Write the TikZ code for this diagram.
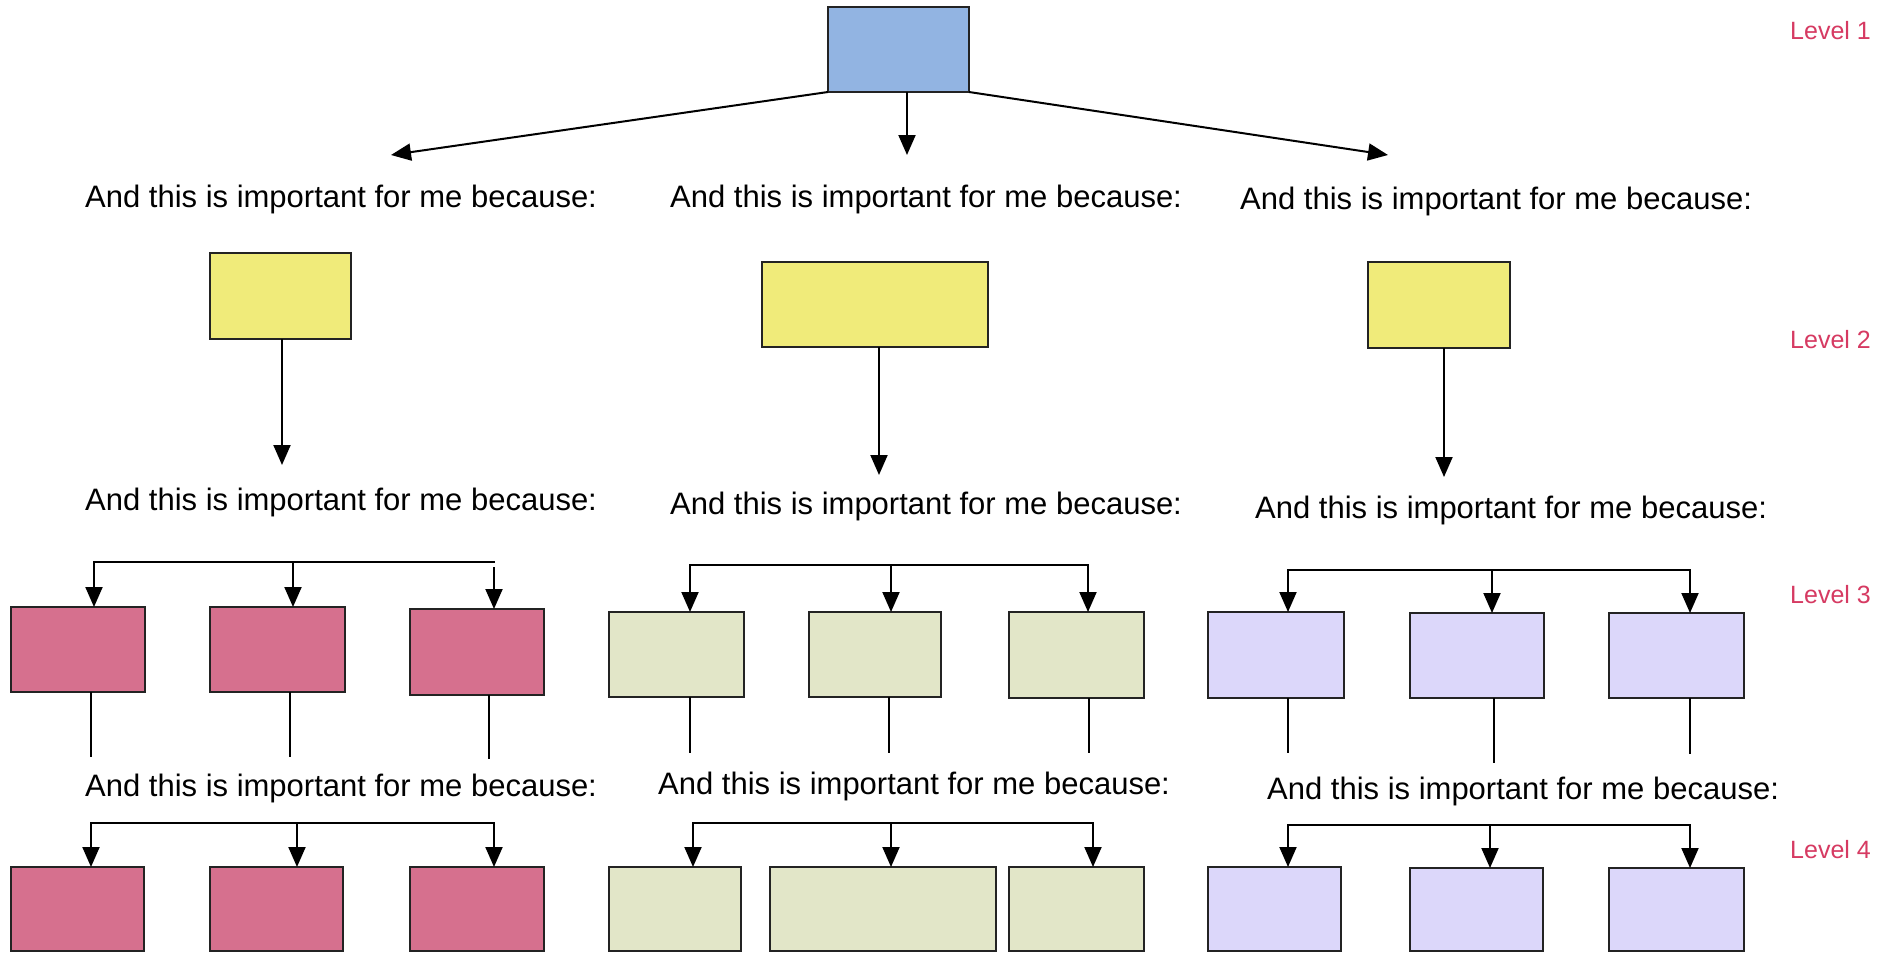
\documentclass[tikz,border=0pt]{standalone}
\usepackage{fontspec}
\setmainfont{Liberation Sans}
\usetikzlibrary{arrows.meta}

\definecolor{bluefill}{RGB}{146,180,226}
\definecolor{yellowfill}{RGB}{240,235,122}
\definecolor{pinkfill}{RGB}{214,112,142}
\definecolor{greenfill}{RGB}{226,230,200}
\definecolor{purplefill}{RGB}{220,215,250}
\definecolor{levelred}{RGB}{214,58,98}
\definecolor{edge}{RGB}{35,35,35}

\newcommand\reasonfont{\fontsize{31}{37}\selectfont}
\newcommand\levelfont{\fontsize{25}{30}\selectfont}
% rectangle node given by its corners: style, name, x1, y1, x2, y2
\newcommand\drawpanel[6]{%
  \node[#1, minimum width={(#5-#3)*1pt}, minimum height={(#6-#4)*1pt}]
    (#2) at ({(#3+#5)/2},{(#4+#6)/2}) {};}

\tikzset{
  panel/.style={rectangle, draw=edge, line width=1.8pt, inner sep=0pt, outer sep=0pt},
  bluebox/.style={panel, fill=bluefill},
  yellowbox/.style={panel, fill=yellowfill},
  pinkbox/.style={panel, fill=pinkfill},
  greenbox/.style={panel, fill=greenfill},
  purplebox/.style={panel, fill=purplefill},
  conn/.style={draw=black, line width=2pt, -{Triangle[length=20pt,width=17pt]}},
  stem/.style={draw=black, line width=1.6pt},
  bar/.style={draw=black, line width=2.4pt, line cap=rect},
  reason/.style={font=\reasonfont, anchor=base west, inner sep=0pt},
  levellab/.style={font=\levelfont, text=levelred, anchor=base west, inner sep=0pt},
}

\begin{document}
\begin{tikzpicture}[x=1pt, y=-1pt]
\fill[white] (0,0) rectangle (1896,953);
\useasboundingbox (0,0) rectangle (1896,953);

% ---------- level labels ----------
\node[levellab] (lv1) at (1790,39) {Level 1};
\node[levellab] (lv2) at (1790,348) {Level 2};
\node[levellab] (lv3) at (1790,603) {Level 3};
\node[levellab] (lv4) at (1790,858) {Level 4};

% ---------- level 1 ----------
\drawpanel{bluebox}{top}{828}{7}{969}{92}
\coordinate (t1) at (391,155);
\coordinate (t2) at (907,155);
\coordinate (t3) at (1388,155);
\draw[conn] (top.south west) -- (t1);
\draw[conn] (t2 |- top.south) -- (t2);
\draw[conn] (top.south east) -- (t3);

\node[reason] (r1a) at (85,207) {And this is important for me because:};
\node[reason] (r1b) at (670,207) {And this is important for me because:};
\node[reason] (r1c) at (1240,209) {And this is important for me because:};

% ---------- level 2 ----------
\drawpanel{yellowbox}{ya}{210}{253}{351}{339}
\drawpanel{yellowbox}{yb}{762}{262}{988}{347}
\drawpanel{yellowbox}{yc}{1368}{262}{1510}{348}
\coordinate (yae) at (282,465);
\coordinate (ybe) at (879,475);
\coordinate (yce) at (1444,477);
\draw[conn] (yae |- ya.south) -- (yae);
\draw[conn] (ybe |- yb.south) -- (ybe);
\draw[conn] (yce |- yc.south) -- (yce);

\node[reason] (r2a) at (85,510) {And this is important for me because:};
\node[reason] (r2b) at (670,514) {And this is important for me because:};
\node[reason] (r2c) at (1255,518) {And this is important for me because:};

% ---------- level 3 ----------
\drawpanel{pinkbox}{p3a}{11}{607}{145}{692}
\drawpanel{pinkbox}{p3b}{210}{607}{345}{692}
\drawpanel{pinkbox}{p3c}{410}{609}{544}{695}
\drawpanel{greenbox}{g3a}{609}{612}{744}{697}
\drawpanel{greenbox}{g3b}{809}{612}{941}{697}
\drawpanel{greenbox}{g3c}{1009}{612}{1144}{698}
\drawpanel{purplebox}{v3a}{1208}{612}{1344}{698}
\drawpanel{purplebox}{v3b}{1410}{613}{1544}{698}
\drawpanel{purplebox}{v3c}{1609}{613}{1744}{698}

% pink bracket
\coordinate (pk3L) at (94,562);
\coordinate (pk3M) at (293,562);
\coordinate (pk3R) at (494,562);
\coordinate (pk3Rs) at (494,567);
\draw[bar] (pk3L) -- (pk3R);
\draw[conn] (pk3L) -- (pk3L |- p3a.north);
\draw[conn] (pk3M) -- (pk3M |- p3b.north);
\draw[conn] (pk3Rs) -- (pk3Rs |- p3c.north);
% green bracket
\coordinate (gr3L) at (690,565);
\coordinate (gr3M) at (891,565);
\coordinate (gr3R) at (1088,565);
\draw[bar] (gr3L) -- (gr3R);
\draw[conn] (gr3L) -- (gr3L |- g3a.north);
\draw[conn] (gr3M) -- (gr3M |- g3b.north);
\draw[conn] (gr3R) -- (gr3R |- g3c.north);
% purple bracket
\coordinate (pu3L) at (1288,570);
\coordinate (pu3M) at (1492,570);
\coordinate (pu3R) at (1690,570);
\draw[bar] (pu3L) -- (pu3R);
\draw[conn] (pu3L) -- (pu3L |- v3a.north);
\draw[conn] (pu3M) -- (pu3M |- v3b.north);
\draw[conn] (pu3R) -- (pu3R |- v3c.north);

% stems below the level 3 boxes
\coordinate (sp1) at (91,757);
\coordinate (sp2) at (290,757);
\coordinate (sp3) at (489,759);
\coordinate (sg1) at (690,753);
\coordinate (sg2) at (889,753);
\coordinate (sg3) at (1089,753);
\coordinate (sv1) at (1288,753);
\coordinate (sv2) at (1494,763);
\coordinate (sv3) at (1690,754);
\draw[stem] (sp1 |- p3a.south) -- (sp1);
\draw[stem] (sp2 |- p3b.south) -- (sp2);
\draw[stem] (sp3 |- p3c.south) -- (sp3);
\draw[stem] (sg1 |- g3a.south) -- (sg1);
\draw[stem] (sg2 |- g3b.south) -- (sg2);
\draw[stem] (sg3 |- g3c.south) -- (sg3);
\draw[stem] (sv1 |- v3a.south) -- (sv1);
\draw[stem] (sv2 |- v3b.south) -- (sv2);
\draw[stem] (sv3 |- v3c.south) -- (sv3);

\node[reason] (r3a) at (85,796) {And this is important for me because:};
\node[reason] (r3b) at (658,794) {And this is important for me because:};
\node[reason] (r3c) at (1267,799) {And this is important for me because:};

% ---------- level 4 ----------
\drawpanel{pinkbox}{p4a}{11}{867}{144}{951}
\drawpanel{pinkbox}{p4b}{210}{867}{343}{951}
\drawpanel{pinkbox}{p4c}{410}{867}{544}{951}
\drawpanel{greenbox}{g4a}{609}{867}{741}{951}
\drawpanel{greenbox}{g4b}{770}{867}{996}{951}
\drawpanel{greenbox}{g4c}{1009}{867}{1144}{951}
\drawpanel{purplebox}{v4a}{1208}{867}{1341}{951}
\drawpanel{purplebox}{v4b}{1410}{868}{1543}{951}
\drawpanel{purplebox}{v4c}{1609}{868}{1744}{951}

\coordinate (pk4L) at (91,823);
\coordinate (pk4M) at (297,823);
\coordinate (pk4R) at (494,823);
\draw[bar] (pk4L) -- (pk4R);
\draw[conn] (pk4L) -- (pk4L |- p4a.north);
\draw[conn] (pk4M) -- (pk4M |- p4b.north);
\draw[conn] (pk4R) -- (pk4R |- p4c.north);

\coordinate (gr4L) at (693,823);
\coordinate (gr4M) at (891,823);
\coordinate (gr4R) at (1093,823);
\draw[bar] (gr4L) -- (gr4R);
\draw[conn] (gr4L) -- (gr4L |- g4a.north);
\draw[conn] (gr4M) -- (gr4M |- g4b.north);
\draw[conn] (gr4R) -- (gr4R |- g4c.north);

\coordinate (pu4L) at (1288,825);
\coordinate (pu4M) at (1490,825);
\coordinate (pu4R) at (1690,825);
\draw[bar] (pu4L) -- (pu4R);
\draw[conn] (pu4L) -- (pu4L |- v4a.north);
\draw[conn] (pu4M) -- (pu4M |- v4b.north);
\draw[conn] (pu4R) -- (pu4R |- v4c.north);
\end{tikzpicture}
\end{document}
